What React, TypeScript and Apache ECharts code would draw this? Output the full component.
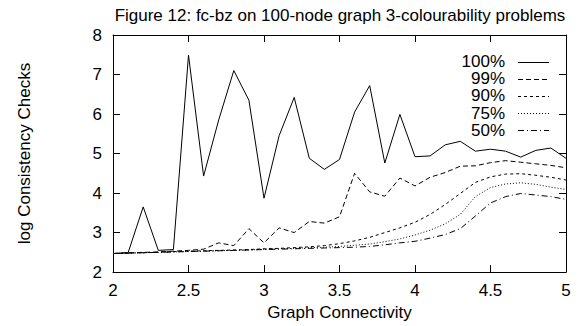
import React, { useEffect, useRef } from "react";
import * as echarts from "echarts";

const connectivity = [
  2.0, 2.1, 2.2, 2.3, 2.4, 2.5, 2.6, 2.7, 2.8, 2.9, 3.0, 3.1, 3.2, 3.3, 3.4, 3.5,
  3.6, 3.7, 3.8, 3.9, 4.0, 4.1, 4.2, 4.3, 4.4, 4.5, 4.6, 4.7, 4.8, 4.9, 5.0,
];
const p100 = [
  2.47, 2.49, 3.65, 2.55, 2.57, 7.49, 4.43, 5.85, 7.1, 6.35, 3.87, 5.45, 6.42, 4.88, 4.6, 4.85,
  6.05, 6.72, 4.76, 5.99, 4.92, 4.94, 5.22, 5.31, 5.06, 5.11, 5.06, 4.91, 5.08, 5.14, 4.88,
];
const p99 = [
  2.47, 2.49, 2.5, 2.51, 2.53, 2.55, 2.58, 2.74, 2.67, 3.1, 2.74, 3.12, 3.0, 3.28, 3.24, 3.4,
  4.5, 4.03, 3.92, 4.38, 4.18, 4.4, 4.52, 4.68, 4.69, 4.77, 4.82, 4.78, 4.74, 4.7, 4.64,
];
const p90 = [
  2.47, 2.48, 2.49, 2.5, 2.52, 2.53, 2.54, 2.55, 2.56, 2.57, 2.59, 2.6, 2.62, 2.64, 2.67, 2.72,
  2.79, 2.88, 3.0, 3.12, 3.26, 3.46, 3.71, 3.99, 4.27, 4.41, 4.48, 4.49, 4.45, 4.4, 4.33,
];
const p75 = [
  2.47, 2.48, 2.49, 2.5, 2.51, 2.52, 2.53, 2.54, 2.55, 2.56, 2.58, 2.59, 2.6, 2.62, 2.63, 2.65,
  2.68, 2.71, 2.77, 2.84, 2.94, 3.06, 3.22, 3.46, 3.91, 4.14, 4.23, 4.26, 4.22, 4.15, 4.09,
];
const p50 = [
  2.47, 2.48, 2.49, 2.5, 2.51, 2.52, 2.53, 2.54, 2.55, 2.56, 2.57, 2.58, 2.59, 2.6, 2.61, 2.62,
  2.63, 2.65, 2.69, 2.74, 2.78, 2.86, 2.95, 3.1, 3.42, 3.75, 3.91, 3.99, 3.95, 3.91, 3.84,
];
const seriesNames = ["100%", "99%", "90%", "75%", "50%"];
const seriesValues = [p100, p99, p90, p75, p50];
const dashes: any[] = ["solid", [5, 3], [3, 3], [1, 2], [6, 3, 1, 3]];

const FONT = "Liberation Sans, Arial, Helvetica, sans-serif";

export default function App() {
  const ref = useRef<HTMLDivElement>(null);
  useEffect(() => {
    if (!ref.current) return;
    const chart = echarts.init(ref.current, undefined, { renderer: "svg" });
    const axisCommon = {
      axisLine: { show: true, onZero: false, lineStyle: { color: "#000", width: 1 } },
      axisTick: { show: true, inside: true, length: 7, lineStyle: { color: "#000", width: 1 } },
      splitLine: { show: false },
    };
    const legendTop = 61.5;
    const legendStep = 17.2;
    const legendGraphics: any[] = [];
    seriesNames.forEach((name, k) => {
      const y = legendTop + k * legendStep;
      legendGraphics.push({
        type: "text",
        x: 505,
        y,
        style: {
          text: name,
          textAlign: "right",
          textVerticalAlign: "middle",
          fontSize: 17,
          fontFamily: FONT,
          fill: "#000",
        },
      });
      legendGraphics.push({
        type: "line",
        shape: { x1: 518, y1: Math.round(y) + 0.5, x2: 549, y2: Math.round(y) + 0.5 },
        style: {
          stroke: "#000",
          lineWidth: 1,
          lineDash: dashes[k] === "solid" ? null : dashes[k],
        },
      });
    });
    chart.setOption({
      animation: false,
      backgroundColor: "#fff",
      textStyle: { fontFamily: FONT },
      graphic: [
        {
          type: "text",
          x: 340,
          y: 7,
          style: {
            text: "Figure 12: fc-bz on 100-node graph 3-colourability problems",
            textAlign: "center",
            fontSize: 17,
            fontFamily: FONT,
            fill: "#000",
          },
        },
        ...legendGraphics,
      ],
      grid: { left: 113, right: 16, top: 35, bottom: 44, show: false },
      xAxis: [
        {
          type: "value",
          min: 2,
          max: 5,
          interval: 0.5,
          position: "bottom",
          ...axisCommon,
          axisLabel: { color: "#000", fontSize: 17, margin: 10, fontFamily: FONT },
          name: "Graph Connectivity",
          nameLocation: "middle",
          nameGap: 26,
          nameTextStyle: { color: "#000", fontSize: 17, fontFamily: FONT },
        },
        {
          type: "value",
          min: 2,
          max: 5,
          interval: 0.5,
          position: "top",
          ...axisCommon,
          axisLabel: { show: false },
        },
      ],
      yAxis: [
        {
          type: "value",
          min: 2,
          max: 8,
          interval: 1,
          position: "left",
          ...axisCommon,
          axisLabel: { color: "#000", fontSize: 17, margin: 11, fontFamily: FONT },
          name: "log Consistency Checks",
          nameLocation: "middle",
          nameGap: 80,
          nameRotate: 90,
          nameTextStyle: { color: "#000", fontSize: 17, fontFamily: FONT },
        },
        {
          type: "value",
          min: 2,
          max: 8,
          interval: 1,
          position: "right",
          ...axisCommon,
          axisLabel: { show: false },
        },
      ],
      series: seriesNames.map((name, k) => ({
        name,
        type: "line",
        xAxisIndex: 0,
        yAxisIndex: 0,
        symbol: "none",
        data: connectivity.map((x, i) => [x, seriesValues[k][i]]),
        lineStyle: { color: "#000", width: 1, type: dashes[k] },
        itemStyle: { color: "#000" },
      })),
    });
    return () => chart.dispose();
  }, []);
  return (
    <div
      ref={ref}
      style={{ position: "fixed", left: 0, top: 0, width: 582, height: 326, background: "#fff" }}
    />
  );
}
